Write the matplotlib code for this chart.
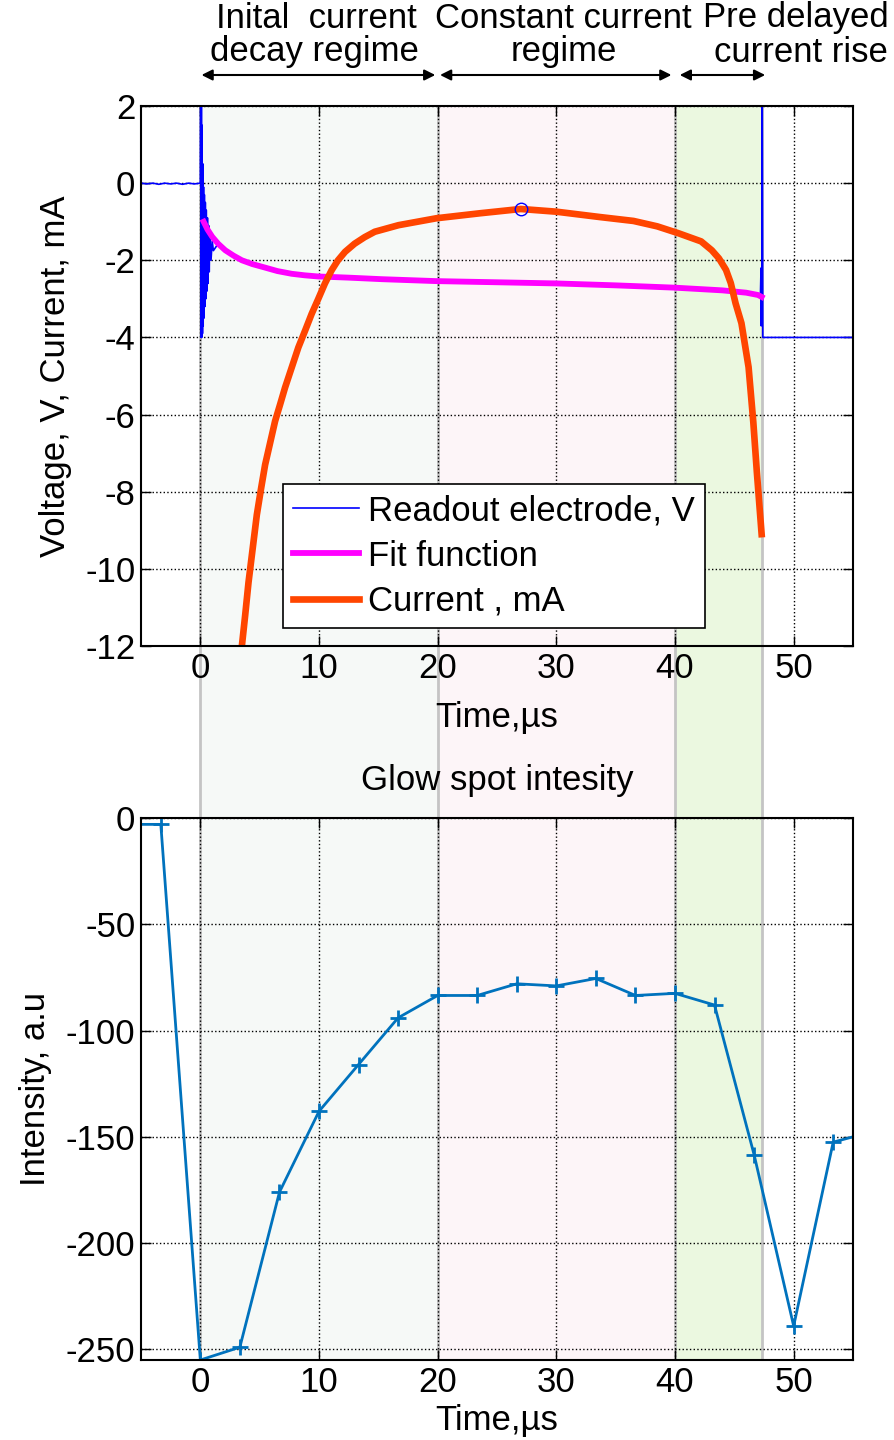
import matplotlib
matplotlib.use('Agg')
import matplotlib.pyplot as plt
import numpy as np

plt.rcParams['font.family'] = ['Liberation Sans', 'DejaVu Sans']
plt.rcParams['axes.unicode_minus'] = False

# regimes (us)
regime_edges = [0, 20, 40, 47.3]
regime_colors = ['#f6f9f7', '#fdf5f8', '#ebf8e0']

# readout electrode, V
t_readout = [-5, -4.5, -4, -3.5, -3, -2.5, -2, -1.5, -1, -0.5, 0.0,
             0.03, 0.06, 0.09, 0.12, 0.15, 0.18, 0.21, 0.24, 0.27, 0.3, 0.34,
             0.38, 0.42, 0.46, 0.5, 0.55, 0.6, 0.65, 0.7, 0.75, 0.8, 0.9, 1.0,
             1.1, 1.5, 2.1, 3.5, 5.46, 7.7, 9.94, 15.3, 20, 30, 40, 44, 46,
             47.2, 47.25, 47.27, 47.29, 47.31, 47.33, 47.35, 47.4, 50, 55]
v_readout = [0.0, -0.02, 0.0, -0.03, 0.0, -0.02, 0.0, -0.03, 0.0, -0.02, 0.0,
             3.0, -4.0, 2.5, -4.0, 1.5, -3.9, 0.5, -3.7, -0.1, -3.5, -0.3,
             -3.2, -0.5, -3.0, -0.7, -2.8, -0.9, -2.6, -1.1, -2.3, -1.3, -2.0,
             -1.5, -1.75, -1.57, -1.74, -2.0, -2.19, -2.35, -2.42, -2.49,
             -2.54, -2.6, -2.71, -2.78, -2.84, -2.9, -2.2, -3.7, -2.3, -3.6,
             -2.5, 3.0, -4.0, -4.0, -4.0]

# fit function
t_fit = [0.28, 0.6, 1.0, 1.5, 2.1, 2.8, 3.5, 4.4, 5.46, 6.5, 7.7, 8.8, 9.94,
         12.5, 15.3, 19.9, 25, 30, 35, 40, 44, 46, 47.0, 47.3]
v_fit = [-1.0, -1.2, -1.39, -1.57, -1.74, -1.88, -2.0, -2.1, -2.19, -2.28,
         -2.35, -2.39, -2.42, -2.45, -2.49, -2.54, -2.57, -2.6, -2.65, -2.71,
         -2.78, -2.84, -2.9, -2.95]

# current, mA
t_cur = [3.5, 3.78, 4.06, 4.4, 4.76, 5.1, 5.46, 6.3, 6.72, 7.14, 7.7, 8.26,
         8.82, 9.38, 9.94, 10.5, 11.06, 11.6, 12.2, 13.0, 13.85, 14.7, 16.7,
         19.9, 23.6, 27.0, 30.0, 33.7, 36.5, 38.5, 40.3, 42.2, 43.1, 43.7,
         44.3, 44.7, 45.1, 45.6, 46.2, 46.6, 46.9, 47.3]
i_cur = [-12.0, -11.2, -10.35, -9.5, -8.6, -7.95, -7.3, -6.17, -5.74, -5.3,
         -4.78, -4.26, -3.83, -3.39, -3.0, -2.6, -2.26, -2.0, -1.78, -1.57,
         -1.4, -1.26, -1.09, -0.91, -0.78, -0.67, -0.74, -0.88, -0.98, -1.12,
         -1.3, -1.51, -1.74, -1.95, -2.25, -2.59, -3.11, -3.63, -4.77, -6.2,
         -7.5, -9.1]
peak_t, peak_i = 27.0, -0.67

# glow spot intensity
t_glow = [-6.67, -3.33, 0, 3.33, 6.67, 10, 13.33, 16.67, 20, 23.33, 26.67,
          30, 33.33, 36.67, 40, 43.33, 46.67, 50, 53.33, 56.67]
glow = [-3, -3, -255, -249, -176, -138, -116, -94, -83.5, -83.5, -78, -79,
        -75.5, -83.5, -82.5, -88, -158.5, -239, -152.5, -147.5]

fig = plt.figure(figsize=(8.94, 14.4), dpi=100)
W, H = 894, 1440
left, right = 141 / W, 853 / W
ax1 = fig.add_axes([left, 1 - 646 / H, right - left, (646 - 106) / H])
ax2 = fig.add_axes([left, 1 - 1360 / H, right - left, (1360 - 818) / H])
bg = fig.add_axes([left, 1 - 1360 / H, right - left, (1360 - 106) / H])
bg.set_zorder(0)
ax1.set_zorder(2)
ax2.set_zorder(2)
bg.set_xlim(-5, 55)
bg.set_ylim(0, 1)
bg.axis('off')
for k in range(3):
    bg.axvspan(regime_edges[k], regime_edges[k + 1], color=regime_colors[k], lw=0)
for e in regime_edges:
    bg.axvline(e, color='#c4c4c4', lw=2)

for ax in (ax1, ax2):
    ax.set_facecolor('none')
    ax.set_xlim(-5, 55)
    ax.set_xticks([0, 10, 20, 30, 40, 50])
    ax.grid(True, color='black', ls=':', lw=1)
    ax.tick_params(direction='in', top=True, right=True, length=7,
                   labelsize=25, pad=4, width=1)
    for s in ax.spines.values():
        s.set_linewidth(1.5)

ax1.plot(t_readout, v_readout, color='#0000ff', lw=1.2, label='Readout electrode, V')
ax1.plot(t_fit, v_fit, color='#ff00ff', lw=4.2, label='Fit function')
ax1.plot(t_cur, i_cur, color='#ff4500', lw=4.8, label='Current , mA')
ax1.plot([peak_t], [peak_i], 'o', mfc='none', mec='#0000ff', ms=9, mew=1,
         label='_nolegend_')
ax1.set_ylim(-12, 2)
ax1.set_yticks(np.arange(-12, 3, 2))
ax1.set_xlabel('Time,µs', fontsize=25, labelpad=12)
ax1.set_ylabel('Voltage, V, Current, mA', fontsize=25)
ax1.yaxis.set_label_coords(-0.097, 0.5)
leg = ax1.legend(loc='lower left', bbox_to_anchor=(0.199, 0.033), fontsize=25,
                 frameon=True, fancybox=False, edgecolor='black', framealpha=1,
                 handlelength=1.9, handletextpad=0.25, labelspacing=0.35,
                 borderpad=0.3, borderaxespad=0)
leg.get_frame().set_linewidth(1.2)

ax2.plot(t_glow, glow, color='#0072bd', lw=2, marker='+', ms=12, mew=2)
ax2.set_ylim(-255, 0)
ax2.set_yticks([0, -50, -100, -150, -200, -250])
ax2.set_xlabel('Time,µs', fontsize=25, labelpad=4)
ax2.set_ylabel('Intensity, a.u', fontsize=25)
ax2.yaxis.set_label_coords(-0.125, 0.5)
ax2.set_title('Glow spot intesity', fontsize=25, pad=20)

# regime annotations above the top plot
ay = 1 - 75 / H
for a, b in [(0.1, 19.8), (20.2, 39.7), (40.4, 47.6)]:
    ax1.annotate('', xy=(b, ay), xytext=(a, ay),
                 xycoords=('data', 'figure fraction'),
                 textcoords=('data', 'figure fraction'),
                 arrowprops=dict(arrowstyle='<|-|>', color='black', lw=1.5,
                                 mutation_scale=16, shrinkA=0, shrinkB=0))
fig.text(316 / W, 1 - 18 / H, 'Inital  current', fontsize=25, ha='center', va='center')
fig.text(314 / W, 1 - 52 / H, 'decay regime', fontsize=25, ha='center', va='center')
fig.text(563 / W, 1 - 18 / H, 'Constant current', fontsize=25, ha='center', va='center')
fig.text(564 / W, 1 - 52 / H, 'regime', fontsize=25, ha='center', va='center')
fig.text(889 / W, 1 - 18 / H, 'Pre delayed', fontsize=25, ha='right', va='center')
fig.text(888 / W, 1 - 52 / H, 'current rise', fontsize=25, ha='right', va='center')

fig.savefig('out.png', dpi=100)
